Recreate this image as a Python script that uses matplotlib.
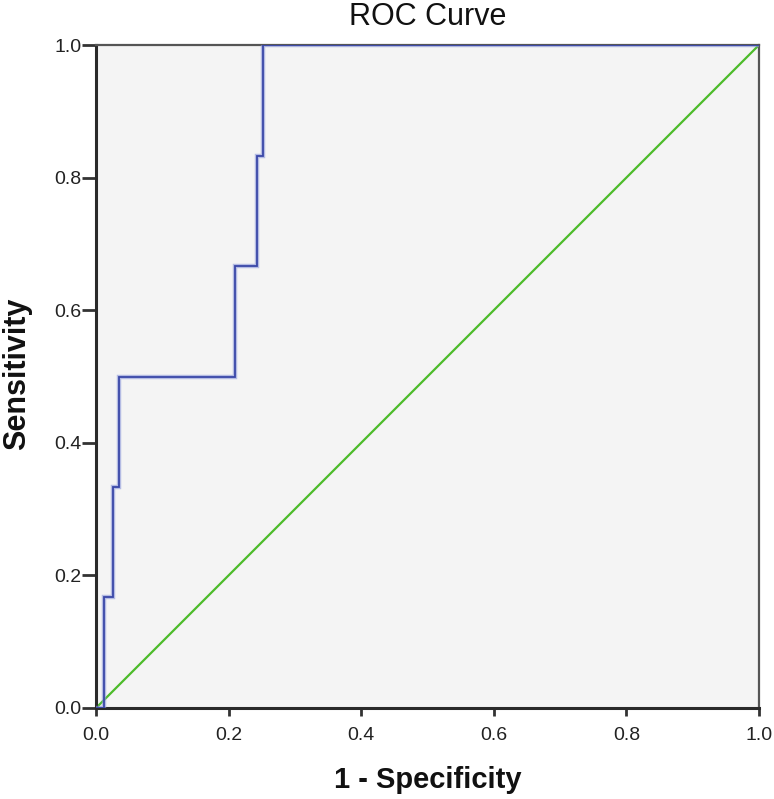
import matplotlib
matplotlib.use("Agg")
import matplotlib.pyplot as plt

# ROC curve points (step curve)
fpr = [0.0, 0.0116, 0.0116, 0.025, 0.025, 0.034, 0.034, 0.209, 0.209, 0.243, 0.243, 0.252, 0.252, 1.0]
tpr = [0.0, 0.0, 0.167, 0.167, 0.333, 0.333, 0.5, 0.5, 0.667, 0.667, 0.833, 0.833, 1.0, 1.0]
ref_x = [0.0, 1.0]
ref_y = [0.0, 1.0]
ticks = [0.0, 0.2, 0.4, 0.6, 0.8, 1.0]
tick_labels = ["0.0", "0.2", "0.4", "0.6", "0.8", "1.0"]

plt.rcParams['font.family'] = ['Liberation Sans', 'DejaVu Sans']

fig = plt.figure(figsize=(7.74, 7.99), dpi=100)
ax = fig.add_axes([96 / 774, 1 - 708 / 799, (759 - 96) / 774, (708 - 45) / 799])
ax.set_facecolor("#f4f4f4")

ax.plot(ref_x, ref_y, color="#4cbb2a", lw=1.6, zorder=2)
ax.plot(fpr, tpr, color="#8a96d8", lw=3.2, alpha=0.6, zorder=3, solid_joinstyle="miter")
ax.plot(fpr, tpr, color="#3a47a8", lw=1.3, zorder=4, solid_joinstyle="miter")

ax.set_xlim(0, 1)
ax.set_ylim(0, 1)
ax.set_xticks(ticks)
ax.set_xticklabels(tick_labels)
ax.set_yticks(ticks)
ax.set_yticklabels(tick_labels)
ax.tick_params(direction="out", width=2, color="#333333",
               labelsize=14, labelcolor="#222222")
ax.tick_params(axis="x", length=5.5, pad=8)
ax.tick_params(axis="y", length=10, pad=0.5)

for side in ["left", "bottom"]:
    ax.spines[side].set_color("#2a2a2a")
    ax.spines[side].set_linewidth(2.2)
for side in ["top", "right"]:
    ax.spines[side].set_color("#555555")
    ax.spines[side].set_linewidth(1.6)

cx = 0.5 * (96 + 759) / 774
fig.text(cx, 1 - 25 / 799, "ROC Curve", ha="center", va="baseline",
         fontsize=22, color="#111111")
fig.text(cx, 1 - 788 / 799, "1 - Specificity", ha="center", va="baseline",
         fontsize=21, fontweight="bold", color="#111111")
fig.text(17 / 774, 1 - 374 / 799, "Sensitivity", ha="center", va="center", rotation=90,
         fontsize=22, fontweight="bold", color="#111111")

fig.savefig("out.png", dpi=100)
